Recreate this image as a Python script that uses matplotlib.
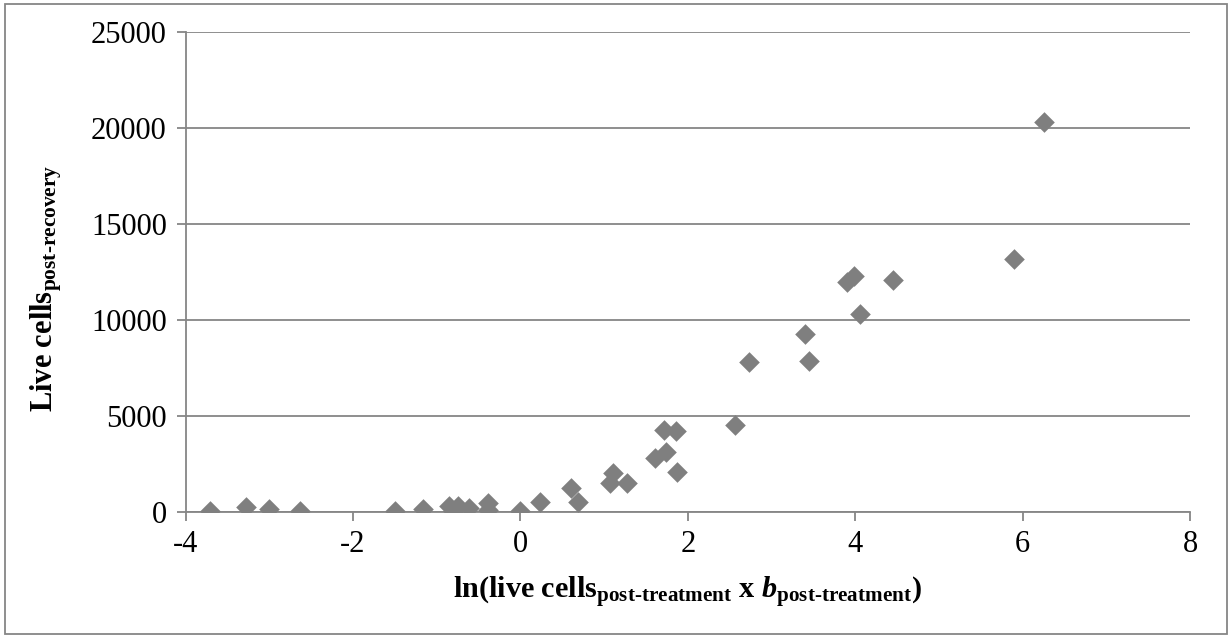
import matplotlib
matplotlib.use("Agg")
import matplotlib.pyplot as plt
from matplotlib.patches import Rectangle

plt.rcParams['font.family'] = ['Liberation Serif', 'DejaVu Serif']
plt.rcParams['mathtext.fontset'] = 'custom'
plt.rcParams['mathtext.rm'] = 'Liberation Serif'
plt.rcParams['mathtext.bf'] = 'Liberation Serif:bold'
plt.rcParams['mathtext.it'] = 'Liberation Serif:italic'
plt.rcParams['mathtext.bfit'] = 'Liberation Serif:italic:bold'

# Data
x_vals = [-3.71, -3.28, -3.00, -2.63, -1.50, -1.16, -0.85, -0.80, -0.75, -0.61,
          -0.39, -0.39, 0.00, 0.24, 0.61, 0.69, 1.07, 1.11, 1.27, 1.61,
          1.74, 1.72, 1.86, 1.87, 2.56, 2.73, 3.40, 3.45, 3.90, 3.98,
          4.45, 4.06, 5.90, 6.25]
y_vals = [30, 260, 140, 30, 30, 160, 300, 30, 300, 210,
          460, 90, 30, 520, 1220, 520, 1480, 2000, 1510, 2780,
          3130, 4260, 4200, 2050, 4520, 7810, 9260, 7850, 11980, 12280,
          12070, 10300, 13150, 20310]

x_ticks = [-4, -2, 0, 2, 4, 6, 8]
y_ticks = [0, 5000, 10000, 15000, 20000, 25000]

W, H = 1231, 638
fig = plt.figure(figsize=(W / 100, H / 100), dpi=100)
ax = fig.add_axes([185.6 / W, 1 - 511.7 / H, (1190 - 185.6) / W, (511.7 - 31.7) / H])

gray = '#868686'
ax.scatter(x_vals, y_vals, marker='D', s=10.5 ** 2, color='#7f7f7f', linewidths=0, zorder=3)

ax.set_xlim(-4, 8)
ax.set_ylim(0, 25000)
ax.set_xticks(x_ticks)
ax.set_yticks(y_ticks)
ax.set_xticklabels([str(t) for t in x_ticks])
ax.set_yticklabels([str(t) for t in y_ticks])
ax.tick_params(axis='both', labelsize=22, direction='out', length=6.5, width=1.3,
               color=gray, pad=7)
ax.yaxis.grid(True, color=gray, linewidth=1.3)
ax.set_axisbelow(True)
for s in ['top', 'right']:
    ax.spines[s].set_visible(False)
for s in ['left', 'bottom']:
    ax.spines[s].set_color(gray)
    ax.spines[s].set_linewidth(1.3)

fig.text(687 / W, 1 - 599 / H,
         r'$\mathbf{ln(live\ cells}_{\mathbf{post‐treatment}}\mathbf{\ x\ }\mathbfit{b}_{\mathbf{post‐treatment}}\mathbf{)}$',
         ha='center', va='baseline', fontsize=21.8)
fig.text(52 / W, 1 - 412 / H,
         r'$\mathbf{Live\ cells}_{\mathbf{post‐recovery}}$',
         ha='left', va='baseline', rotation=90, rotation_mode='anchor', fontsize=22)

fig.patches.append(Rectangle((4.5 / W, 4.5 / H), (1226.5 - 4.5) / W, (634 - 4.5) / H,
                             transform=fig.transFigure, fill=False,
                             edgecolor=gray, linewidth=1.3))

fig.savefig('out.png', dpi=100)
